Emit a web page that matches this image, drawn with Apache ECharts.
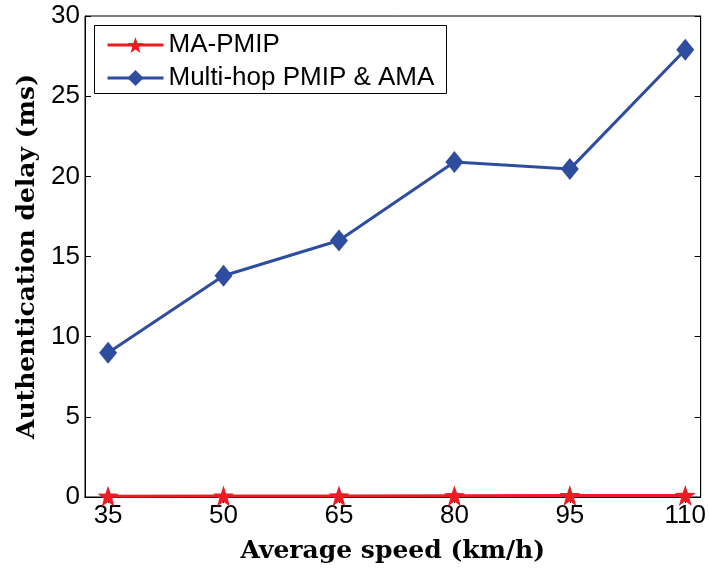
<!DOCTYPE html>
<html><head><meta charset="utf-8">
<script src="https://cdn.jsdelivr.net/npm/echarts@6/dist/echarts.min.js"></script>
<style>html,body{margin:0;padding:0;background:#fff}#c{width:709px;height:569px}</style>
</head><body><div id="c"></div>
<script>
var speeds = [35, 50, 65, 80, 95, 110];
var maPmip = [0.05, 0.06, 0.07, 0.08, 0.09, 0.1];
var multiHop = [9.0, 13.8, 16.0, 20.9, 20.45, 27.9];
var yTicks = [0, 5, 10, 15, 20, 25, 30];
var seriesNames = ['MA-PMIP', 'Multi-hop PMIP & AMA'];

var chart = echarts.init(document.getElementById('c'));
var titleFont = {fontFamily: 'DejaVu Serif', fontSize: 25, fontWeight: 'bold', color: '#000'};
function pairs(ys){ return speeds.map(function(x,i){return [x, ys[i]];}); }
chart.setOption({
  animation: false,
  grid: {left: 85, right: 8, top: 16, bottom: 69, show: true, borderColor: '#000', borderWidth: 1},
  legend: {
    orient: 'vertical', left: 101, top: 27, itemWidth: 56, itemHeight: 20, itemGap: 7,
    lineStyle: {width: 3},
    textStyle: {fontFamily: 'Liberation Sans', fontSize: 26, lineHeight: 26, color: '#000'},
    data: seriesNames
  },
  graphic: [{type: 'rect', shape: {x: 94.5, y: 25.5, width: 352, height: 68}, style: {fill: 'none', stroke: '#000', lineWidth: 1}, z: 100}],
  xAxis: [{
    type: 'value', min: 32, max: 112, position: 'bottom',
    name: 'Average speed (km/h)', nameLocation: 'middle', nameGap: 42, nameTextStyle: titleFont,
    axisLine: {show: true, lineStyle: {color: '#000'}},
    axisTick: {inside: true, length: 6, customValues: speeds, lineStyle: {color: '#000'}},
    axisLabel: {customValues: speeds, margin: 6, fontFamily: 'Liberation Sans', fontSize: 26, color: '#000'},
    splitLine: {show: false}
  }, {
    type: 'value', min: 32, max: 112, position: 'top',
    axisLine: {show: true, lineStyle: {color: '#000'}},
    axisTick: {inside: true, length: 6, customValues: speeds, lineStyle: {color: '#000'}},
    axisLabel: {show: false}, splitLine: {show: false}
  }],
  yAxis: [{
    type: 'value', min: 0, max: 30, interval: 5, position: 'left',
    name: 'Authentication delay (ms)', nameLocation: 'middle', nameGap: 44, nameTextStyle: titleFont,
    axisLine: {show: true, lineStyle: {color: '#000'}},
    axisTick: {inside: true, length: 6, lineStyle: {color: '#000'}},
    axisLabel: {margin: 5, fontFamily: 'Liberation Sans', fontSize: 26, color: '#000'},
    splitLine: {show: false}
  }, {
    type: 'value', min: 0, max: 30, interval: 5, position: 'right',
    axisLine: {show: true, lineStyle: {color: '#000'}},
    axisTick: {inside: true, length: 6, lineStyle: {color: '#000'}},
    axisLabel: {show: false}, splitLine: {show: false}
  }],
  series: [{
    name: seriesNames[0], type: 'line', data: pairs(maPmip),
    symbol: 'path://M0,-10 L2.35,-3.24 L9.51,-3.09 L3.8,1.24 L5.88,8.09 L0,4 L-5.88,8.09 L-3.8,1.24 L-9.51,-3.09 L-2.35,-3.24 Z',
    symbolSize: 21, itemStyle: {color: '#ec1c24'}, lineStyle: {color: '#ec1c24', width: 3}, z: 3
  }, {
    name: seriesNames[1], type: 'line', data: pairs(multiHop),
    symbol: 'diamond', symbolSize: [18, 22], itemStyle: {color: '#2e4d9f'}, lineStyle: {color: '#2e4d9f', width: 3}, z: 2
  }]
});
</script></body></html>
